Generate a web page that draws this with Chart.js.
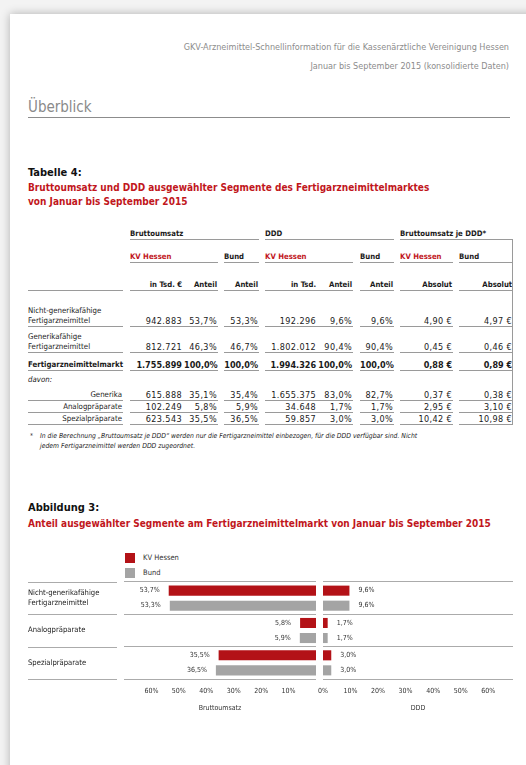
<!DOCTYPE html>
<html lang="de">
<head>
<meta charset="utf-8">
<title>Anteil ausgewählter Segmente am Fertigarzneimittelmarkt</title>
<script src="https://cdn.jsdelivr.net/npm/chart.js@4.4.1/dist/chart.umd.min.js"></script>
<style>
  html, body { margin: 0; padding: 0; }
  body {
    width: 526px; height: 765px; overflow: hidden; position: relative;
    background: #f3f3f3; color: #1a1a1a;
    font-family: "Liberation Sans Narrow", "DejaVu Sans Condensed", sans-serif;
  }
  .page { position: absolute; left: 10px; top: 14px; width: 560px; height: 800px; background: #fff; box-shadow: 0 0 9px rgba(0,0,0,.28); }
  .abs { position: absolute; white-space: nowrap; }
  .hdr { right: 17px; font-size: 9px; line-height: 11px; color: #8c8c8c; text-align: right; }
  .section { left: 28px; top: 98px; font-size: 15px; line-height: 18px; color: #8a8a8a; }
  .rule { left: 28px; top: 117px; width: 482px; height: 1px; background: #8c8c8c; }
  .cap { left: 28px; font-size: 11px; line-height: 14px; font-weight: bold; color: #111; }
  .red { color: #c1161c; }
  .title { left: 28px; font-size: 10px; line-height: 14px; font-weight: bold; color: #c1161c; }

  table { position: absolute; left: 28px; top: 227px; width: 485px; table-layout: fixed;
          border-collapse: separate; border-spacing: 0; font-size: 9px; line-height: 10px; }
  td { padding: 0 1px 0 0; vertical-align: bottom; white-space: nowrap; overflow: visible; }
  td.b { border-bottom: 1px solid #9a9a9a; }
  td.r { text-align: right; }
  td.l { font-size: 7.8px; }
  td.n { text-align: right; letter-spacing: .4px; }
  td.t { padding-right: 2px; }
  tr.h td { font-weight: bold; font-size: 7.7px; }
  tr.sum td { font-weight: bold; }
  tr.sum td.n { letter-spacing: 0; }
  .vline { left: 512px; top: 240px; width: 1px; height: 185px; background: #9a9a9a; }
  .foot { font-size: 6.8px; line-height: 10px; font-style: italic; top: 431px; color: #222; }

  .legend { left: 125px; top: 553px; font-size: 7.5px; color: #333; }
  .legend div { position: relative; height: 15px; line-height: 10px; padding-left: 18px; }
  .legend span { position: absolute; left: 0; top: 0; width: 10px; height: 10px; }
  canvas { position: absolute; }
</style>
</head>
<body>
<div class="page"></div>

<div class="abs hdr" style="top:42px">GKV-Arzneimittel-Schnellinformation für die Kassenärztliche Vereinigung Hessen</div>
<div class="abs hdr" style="top:61px">Januar bis September 2015 (konsolidierte Daten)</div>
<div class="abs section">Überblick</div>
<div class="abs rule"></div>

<div class="abs cap" style="top:166px">Tabelle 4:</div>
<div class="abs title" style="top:181px">Bruttoumsatz und DDD ausgewählter Segmente des Fertigarzneimittelmarktes<br>von Januar bis September 2015</div>

<table>
  <colgroup>
    <col style="width:95px"><col style="width:7px"><col style="width:54px"><col style="width:34px"><col style="width:6px">
    <col style="width:35px"><col style="width:6px"><col style="width:53px"><col style="width:35px"><col style="width:7px">
    <col style="width:34px"><col style="width:6px"><col style="width:53px"><col style="width:6px"><col style="width:54px">
  </colgroup>
  <tr class="h" style="height:13px">
    <td></td><td></td><td class="b" colspan="4">Bruttoumsatz</td><td></td>
    <td class="b" colspan="4">DDD</td><td></td><td class="b" colspan="3">Bruttoumsatz je DDD*</td>
  </tr>
  <tr class="h" style="height:23px">
    <td></td><td></td><td class="b red" colspan="2">KV Hessen</td><td></td><td class="b">Bund</td><td></td>
    <td class="b red" colspan="2">KV Hessen</td><td></td><td class="b">Bund</td><td></td>
    <td class="b red">KV Hessen</td><td></td><td class="b">Bund</td>
  </tr>
  <tr class="h" style="height:28px">
    <td class="b"></td><td></td><td class="b r t">in Tsd. €</td><td class="b r">Anteil</td><td></td><td class="b r">Anteil</td><td></td>
    <td class="b r t">in Tsd.</td><td class="b r">Anteil</td><td></td><td class="b r">Anteil</td><td></td>
    <td class="b r">Absolut</td><td></td><td class="b r">Absolut</td>
  </tr>
  <tr style="height:36px">
    <td class="b l">Nicht-generikafähige<br>Fertigarzneimittel</td><td></td><td class="b n t">942.883</td><td class="b n">53,7%</td><td></td><td class="b n">53,3%</td><td></td>
    <td class="b n t">192.296</td><td class="b n">9,6%</td><td></td><td class="b n">9,6%</td><td></td>
    <td class="b n">4,90 €</td><td></td><td class="b n">4,97 €</td>
  </tr>
  <tr style="height:26px">
    <td class="b l">Generikafähige<br>Fertigarzneimittel</td><td></td><td class="b n t">812.721</td><td class="b n">46,3%</td><td></td><td class="b n">46,7%</td><td></td>
    <td class="b n t">1.802.012</td><td class="b n">90,4%</td><td></td><td class="b n">90,4%</td><td></td>
    <td class="b n">0,45 €</td><td></td><td class="b n">0,46 €</td>
  </tr>
  <tr class="sum" style="height:18px">
    <td class="b l">Fertigarzneimittelmarkt</td><td></td><td class="b n t">1.755.899</td><td class="b n">100,0%</td><td></td><td class="b n">100,0%</td><td></td>
    <td class="b n t">1.994.326</td><td class="b n">100,0%</td><td></td><td class="b n">100,0%</td><td></td>
    <td class="b n">0,88 €</td><td></td><td class="b n">0,89 €</td>
  </tr>
  <tr style="height:14px">
    <td class="l" style="font-style:italic">davon:</td><td colspan="14"></td>
  </tr>
  <tr style="height:16px">
    <td class="b r l">Generika</td><td></td><td class="b n t">615.888</td><td class="b n">35,1%</td><td></td><td class="b n">35,4%</td><td></td>
    <td class="b n t">1.655.375</td><td class="b n">83,0%</td><td></td><td class="b n">82,7%</td><td></td>
    <td class="b n">0,37 €</td><td></td><td class="b n">0,38 €</td>
  </tr>
  <tr style="height:12px">
    <td class="b r l">Analogpräparate</td><td></td><td class="b n t">102.249</td><td class="b n">5,8%</td><td></td><td class="b n">5,9%</td><td></td>
    <td class="b n t">34.648</td><td class="b n">1,7%</td><td></td><td class="b n">1,7%</td><td></td>
    <td class="b n">2,95 €</td><td></td><td class="b n">3,10 €</td>
  </tr>
  <tr style="height:12px">
    <td class="b r l">Spezialpräparate</td><td></td><td class="b n t">623.543</td><td class="b n">35,5%</td><td></td><td class="b n">36,5%</td><td></td>
    <td class="b n t">59.857</td><td class="b n">3,0%</td><td></td><td class="b n">3,0%</td><td></td>
    <td class="b n">10,42 €</td><td></td><td class="b n">10,98 €</td>
  </tr>
</table>
<div class="abs vline"></div>

<div class="abs foot" style="left:30px">*</div>
<div class="abs foot" style="left:40px">In die Berechnung „Bruttoumsatz je DDD“ werden nur die Fertigarzneimittel einbezogen, für die DDD verfügbar sind. Nicht<br>jedem Fertigarzneimittel werden DDD zugeordnet.</div>

<div class="abs cap" style="top:501px">Abbildung 3:</div>
<div class="abs title" style="top:517px">Anteil ausgewählter Segmente am Fertigarzneimittelmarkt von Januar bis September 2015</div>

<div class="abs legend" id="legend"></div>

<canvas id="umsatz" width="300" height="145" style="left:20px;top:575px;width:300px;height:145px"></canvas>
<canvas id="ddd" width="220" height="145" style="left:300px;top:575px;width:220px;height:145px"></canvas>

<script>
// segments and shares (in %)
const categories = [['Nicht-generikafähige', 'Fertigarzneimittel'], 'Analogpräparate', 'Spezialpräparate']
const umsatzKV = [53.7, 5.8, 35.5]
const umsatzBund = [53.3, 5.9, 36.5]
const dddKV = [9.6, 1.7, 3.0]
const dddBund = [9.6, 1.7, 3.0]
const seriesNames = ['KV Hessen', 'Bund']

const red = '#b31217'
const grey = '#a4a4a4'
const gridColor = '#ababab'
const fontStack = '"Liberation Sans Narrow", "DejaVu Sans Condensed", sans-serif'

Chart.defaults.font.family = fontStack
Chart.defaults.color = '#333'

const pct = v => v.toFixed(1).replace('.', ',') + '%'

// value labels next to the bar ends
const valueLabels = {
    id: 'valueLabels',
    afterDatasetsDraw(chart) {
        const ctx = chart.ctx
        const toLeft = chart.scales.x.options.reverse
        ctx.save()
        ctx.font = '7px ' + fontStack
        ctx.fillStyle = '#333'
        ctx.textBaseline = 'middle'
        ctx.textAlign = toLeft ? 'right' : 'left'
        chart.data.datasets.forEach((ds, i) => {
            chart.getDatasetMeta(i).data.forEach((bar, j) => {
                ctx.fillText(pct(ds.data[j]), toLeft ? bar.x - 9 : bar.x + 9, bar.y)
            })
        })
        ctx.restore()
    }
}

// rules under the category names, same rows as the grid
const rowRules = {
    id: 'rowRules',
    afterDraw(chart) {
        const y = chart.scales.y
        const n = chart.data.labels.length
        const step = (y.bottom - y.top) / n
        const ctx = chart.ctx
        ctx.save()
        ctx.strokeStyle = gridColor
        ctx.lineWidth = 1
        ctx.beginPath()
        for (let i = 0; i <= n; i++) {
            const yy = Math.round(y.top + i * step) + 0.5
            ctx.moveTo(y.left, yy)
            ctx.lineTo(chart.chartArea.left - 7, yy)
        }
        ctx.stroke()
        ctx.restore()
    }
}

const barSet = (label, data, color) => ({
    label: label,
    data: data,
    backgroundColor: color,
    borderWidth: 0,
    barPercentage: 0.67,
    categoryPercentage: 0.93
})

const xAxis = (title, reverse, max) => ({
    min: 0,
    max: max,
    reverse: reverse,
    grid: { display: false, drawTicks: false },
    border: { display: false },
    ticks: {
        stepSize: 10,
        padding: 8,
        autoSkip: false,
        maxRotation: 0,
        font: { size: 7 },
        color: '#333',
        callback: v => (v <= 60 && (!reverse || v > 0)) ? v + '%' : null
    },
    title: { display: true, text: title, font: { size: 7 }, color: '#333', padding: { top: 0, bottom: 8 } },
    afterFit: s => { s.height = 41 }
})

const umsatz = new Chart(document.getElementById('umsatz'), {
    type: 'bar',
    data: {
        labels: categories,
        datasets: [barSet(seriesNames[0], umsatzKV, red), barSet(seriesNames[1], umsatzBund, grey)]
    },
    options: {
        indexAxis: 'y',
        responsive: false,
        animation: false,
        layout: { padding: { left: 8, top: 7, right: 4, bottom: 0 } },
        scales: {
            x: xAxis('Bruttoumsatz', true, 70),
            y: {
                grid: { color: gridColor, drawTicks: false },
                border: { display: false },
                ticks: { crossAlign: 'far', padding: 0, color: '#222', font: { size: 7.6, lineHeight: 1.35 } },
                afterFit: s => { s.width = 96 }
            }
        },
        plugins: { legend: { display: false }, tooltip: { enabled: false } }
    },
    plugins: [valueLabels, rowRules]
})

const ddd = new Chart(document.getElementById('ddd'), {
    type: 'bar',
    data: {
        labels: categories,
        datasets: [barSet(seriesNames[0], dddKV, red), barSet(seriesNames[1], dddBund, grey)]
    },
    options: {
        indexAxis: 'y',
        responsive: false,
        animation: false,
        layout: { padding: { left: 23, top: 7, right: 7, bottom: 0 } },
        scales: {
            x: xAxis('DDD', false, 69),
            y: {
                grid: { color: gridColor, drawTicks: false },
                border: { display: false },
                ticks: { display: false },
                afterFit: s => { s.width = 0 }
            }
        },
        plugins: { legend: { display: false }, tooltip: { enabled: false } }
    },
    plugins: [valueLabels]
})

// legend built from the datasets of the first chart
const legend = document.getElementById('legend')
umsatz.data.datasets.forEach(ds => {
    const row = document.createElement('div')
    const box = document.createElement('span')
    box.style.background = ds.backgroundColor
    row.appendChild(box)
    row.appendChild(document.createTextNode(ds.label))
    legend.appendChild(row)
})
</script>
</body>
</html>
